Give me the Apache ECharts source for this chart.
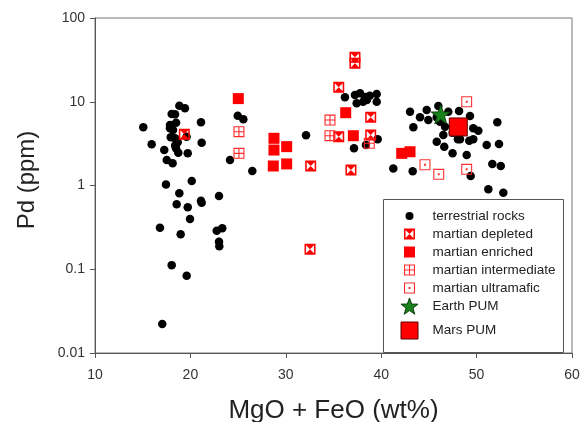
<!DOCTYPE html>
<html>
<head>
<meta charset="utf-8">
<script src="https://cdn.jsdelivr.net/npm/echarts@6/dist/echarts.min.js"></script>
<style>
html,body{margin:0;padding:0;background:#fff;}
#chart{width:584px;height:422px;}
</style>
</head>
<body>
<div id="chart"></div>
<script>
// ---- data (MgO+FeO wt%, Pd ppm) ----
const seriesNames = ['terrestrial rocks','martian depleted','martian enriched','martian intermediate','martian ultramafic','Earth PUM','Mars PUM'];

const terrestrialRocks = [
  [15.06,4.95],[15.94,3.10],[18.84,8.97],[19.43,8.35],[18.04,7.14],[18.39,7.08],[17.86,4.82],[18.18,4.60],
  [17.94,3.76],[18.39,3.66],[17.26,2.65],[17.52,2.02],[18.14,1.84],[18.49,2.78],[18.73,2.46],[19.72,2.42],
  [21.11,5.69],[21.18,3.24],[24.96,6.81],[25.55,6.17],[24.15,2.02],[26.49,1.49],[17.44,1.03],[20.14,1.13],
  [18.84,0.807],[18.56,0.597],[19.72,0.549],[21.11,0.658],[21.18,0.623],[23.0,0.749],[16.81,0.313],[18.98,0.261],
  [19.96,0.398],[22.76,0.289],[23.34,0.308],[23.0,0.213],[23.03,0.188],[18.04,0.112],[19.61,0.0838],[17.05,0.0222],
  [18.67,3.28],[17.86,5.28],[18.5,5.6],[19.6,3.83],[18.4,3.0],
  [32.12,3.97],[36.2,11.3],[37.25,12.0],[37.78,12.6],[38.3,11.4],[38.8,11.8],[39.53,12.4],[39.53,10.0],
  [37.43,9.58],[38.1,10.0],[38.5,10.5],[37.15,2.78],[39.63,3.56],[38.4,3.05],[41.27,1.60],[43.3,1.48],
  [43.02,7.61],[44.07,6.52],[44.77,7.97],[44.94,6.05],[43.37,4.95],[45.99,8.90],[45.82,6.52],[46.16,5.78],
  [47.03,7.61],[48.16,7.76],[49.31,6.76],[46.69,5.04],[46.51,4.01],[47.5,4.27],[48.26,3.56],[45.82,3.33],
  [46.61,2.91],[47.48,2.42],[48.96,2.31],[49.23,3.43],[49.65,3.56],[49.65,4.82],[50.18,4.51],[51.06,3.05],
  [52.17,5.69],[52.35,3.13],[51.65,1.81],[52.53,1.71],[49.38,1.30],[51.23,0.901],[52.8,0.82],[48.04,3.56]
];
const martianDepleted = [
  [19.36,4.09],[37.25,33.9],[37.25,28.8],[35.55,14.9],[35.55,3.83],[38.9,6.52],[38.9,4.01],[32.61,1.71],[36.83,1.53],[32.54,0.173]
];
const martianEnriched = [
  [25.02,10.9],[28.76,3.66],[28.76,2.65],[30.09,2.91],[28.69,1.71],[30.09,1.81],[36.28,7.40],[37.08,3.93],[42.15,2.42],[43.02,2.53]
];
const martianIntermediate = [
  [25.09,4.39],[25.09,2.42],[34.63,6.05],[34.63,3.93],[38.75,3.19]
];
const martianUltramafic = [
  [48.96,10.0],[44.59,1.77],[46.03,1.36],[48.96,1.56]
];
const earthPUM = [[46.24,7.08]];
const marsPUM = [[48.08,5.0]];

const xTickLabels = ['10','20','30','40','50','60'];
const yTickLabels = ['0.01','0.1','1','10','100'];

// ---- marker shapes ----
function f(n){return (+n.toFixed(3)).toString();}
function rectCW(x1,y1,x2,y2){return `M${f(x1)},${f(y1)} L${f(x2)},${f(y1)} L${f(x2)},${f(y2)} L${f(x1)},${f(y2)} Z `;}
function rectCCW(x1,y1,x2,y2){return `M${f(x1)},${f(y1)} L${f(x1)},${f(y2)} L${f(x2)},${f(y2)} L${f(x2)},${f(y1)} Z `;}
function shapeCircle(ox,oy,s){const r=s/2,cx=ox+r,cy=oy+r;return `M${f(cx-r)},${f(cy)} A${f(r)},${f(r)} 0 1 0 ${f(cx+r)},${f(cy)} A${f(r)},${f(r)} 0 1 0 ${f(cx-r)},${f(cy)} Z `;}
function shapeDepleted(ox,oy,s){const u=s/10;
  return rectCW(ox,oy,ox+s,oy+s) +
   `M${f(ox+1.4*u)},${f(oy+1.4*u)} L${f(ox+1.4*u)},${f(oy+8.6*u)} L${f(ox+5*u)},${f(oy+5*u)} Z ` +
   `M${f(ox+8.6*u)},${f(oy+1.4*u)} L${f(ox+5*u)},${f(oy+5*u)} L${f(ox+8.6*u)},${f(oy+8.6*u)} Z `;}
function shapeSquare(ox,oy,s){return rectCW(ox,oy,ox+s,oy+s);}
function shapeIntermediate(ox,oy,s){const u=s/10;
  return rectCW(ox,oy,ox+s,oy+s) +
   rectCCW(ox+1*u,oy+1*u,ox+4.5*u,oy+4.5*u)+rectCCW(ox+5.5*u,oy+1*u,ox+9*u,oy+4.5*u)+
   rectCCW(ox+1*u,oy+5.5*u,ox+4.5*u,oy+9*u)+rectCCW(ox+5.5*u,oy+5.5*u,ox+9*u,oy+9*u);}
function shapeUltramafic(ox,oy,s){const u=s/10;
  return rectCW(ox,oy,ox+s,oy+s)+rectCCW(ox+1*u,oy+1*u,ox+9*u,oy+9*u)+rectCW(ox+4.1*u,oy+4.1*u,ox+5.9*u,oy+5.9*u);}
function shapeStar(ox,oy,s){const R=s/2,cx=ox+R,cy=oy+R*1.05,ri=R*0.4;let d='';
  for(let i=0;i<10;i++){const a=-Math.PI/2+i*Math.PI/5;const rr=i%2?ri:R;
    d+=(i?'L':'M')+f(cx+rr*Math.cos(a))+','+f(cy+rr*Math.sin(a))+' ';}
  return d+'Z ';}

const shapeFns=[shapeCircle,shapeDepleted,shapeSquare,shapeIntermediate,shapeUltramafic,shapeStar,shapeSquare];
const symbolSizes=[8.5,11,11,11,11,19,18];
const legendSizes=[8,11,11,11,11,18,17];
const BW=36,BH=18;
function seriesSymbol(i){return 'path://'+shapeFns[i](0,0,10);}
function legendSymbol(i){const s=legendSizes[i];return 'path://M0,0 M'+BW+','+BH+' '+shapeFns[i](BW/2-s/2,BH/2-s/2,s);}

const colors=['#000000','#ff0000','#ff0000','#ff2a2a','#ff3030','#1a821a','#ff0000'];
const borders=[null,null,null,null,null,{c:'#0b3d0b',w:1},{c:'#5a0000',w:1}];
const allData=[terrestrialRocks,martianDepleted,martianEnriched,martianIntermediate,martianUltramafic,earthPUM,marsPUM];

const FONT='"Liberation Sans", Arial, Helvetica, sans-serif';

const series=seriesNames.map((n,i)=>({
  name:n,type:'scatter',data:allData[i],
  symbol:seriesSymbol(i),symbolSize:symbolSizes[i],
  itemStyle:Object.assign({color:colors[i],opacity:1},borders[i]?{borderColor:borders[i].c,borderWidth:borders[i].w}:{borderWidth:0}),
  emphasis:{disabled:true},z:2+i
}));

function legendItem(i){
  return {name:seriesNames[i],icon:legendSymbol(i),
    itemStyle:borders[i]?{borderColor:borders[i].c,borderWidth:borders[i].w}:{borderWidth:0}};
}
const legendCommon={orient:'vertical',itemWidth:BW,itemHeight:BH,itemGap:0,padding:0,left:391,
  symbolKeepAspect:true,selectedMode:false,z:20,
  textStyle:{fontFamily:FONT,fontSize:13.5,color:'#222'}};

const chart=echarts.init(document.getElementById('chart'),null,{renderer:'canvas'});
chart.setOption({
  animation:false,
  backgroundColor:'#fff',
  grid:{left:95,right:12,top:18,bottom:69,containLabel:false,outerBoundsMode:'none',
    show:true,borderColor:'#777',borderWidth:1,backgroundColor:'transparent'},
  xAxis:{type:'value',min:10,max:60,interval:10,
    name:'MgO + FeO (wt%)',nameLocation:'middle',nameGap:45,
    nameTextStyle:{fontFamily:FONT,fontSize:26,color:'#222'},
    axisLine:{show:true,onZero:false,lineStyle:{color:'#555',width:1}},
    axisTick:{show:true,inside:false,length:5,lineStyle:{color:'#555'}},
    axisLabel:{margin:15,fontFamily:FONT,fontSize:14,color:'#333',
      formatter:v=>xTickLabels[Math.round((v-10)/10)]},
    splitLine:{show:false}},
  yAxis:{type:'log',logBase:10,min:0.01,max:100,
    name:'Pd (ppm)',nameLocation:'middle',nameGap:56,
    nameTextStyle:{fontFamily:FONT,fontSize:24,color:'#222',padding:[0,0,0,11]},
    axisLine:{show:true,onZero:false,lineStyle:{color:'#555',width:1}},
    axisTick:{show:true,inside:false,length:5,lineStyle:{color:'#555'}},
    axisLabel:{margin:10,fontFamily:FONT,fontSize:14,color:'#333',
      formatter:v=>yTickLabels[Math.round(Math.log10(v))+2]},
    splitLine:{show:false},minorTick:{show:false}},
  legend:[
    Object.assign({},legendCommon,{top:207,data:[0,1,2,3,4,5].map(legendItem)}),
    Object.assign({},legendCommon,{top:321,data:[legendItem(6)]})
  ],
  graphic:{elements:[{type:'rect',left:383,top:199,z:10,
    shape:{width:180,height:153},style:{fill:'#fff',stroke:'#555',lineWidth:1}}]},
  series:series
});
</script>
</body>
</html>
